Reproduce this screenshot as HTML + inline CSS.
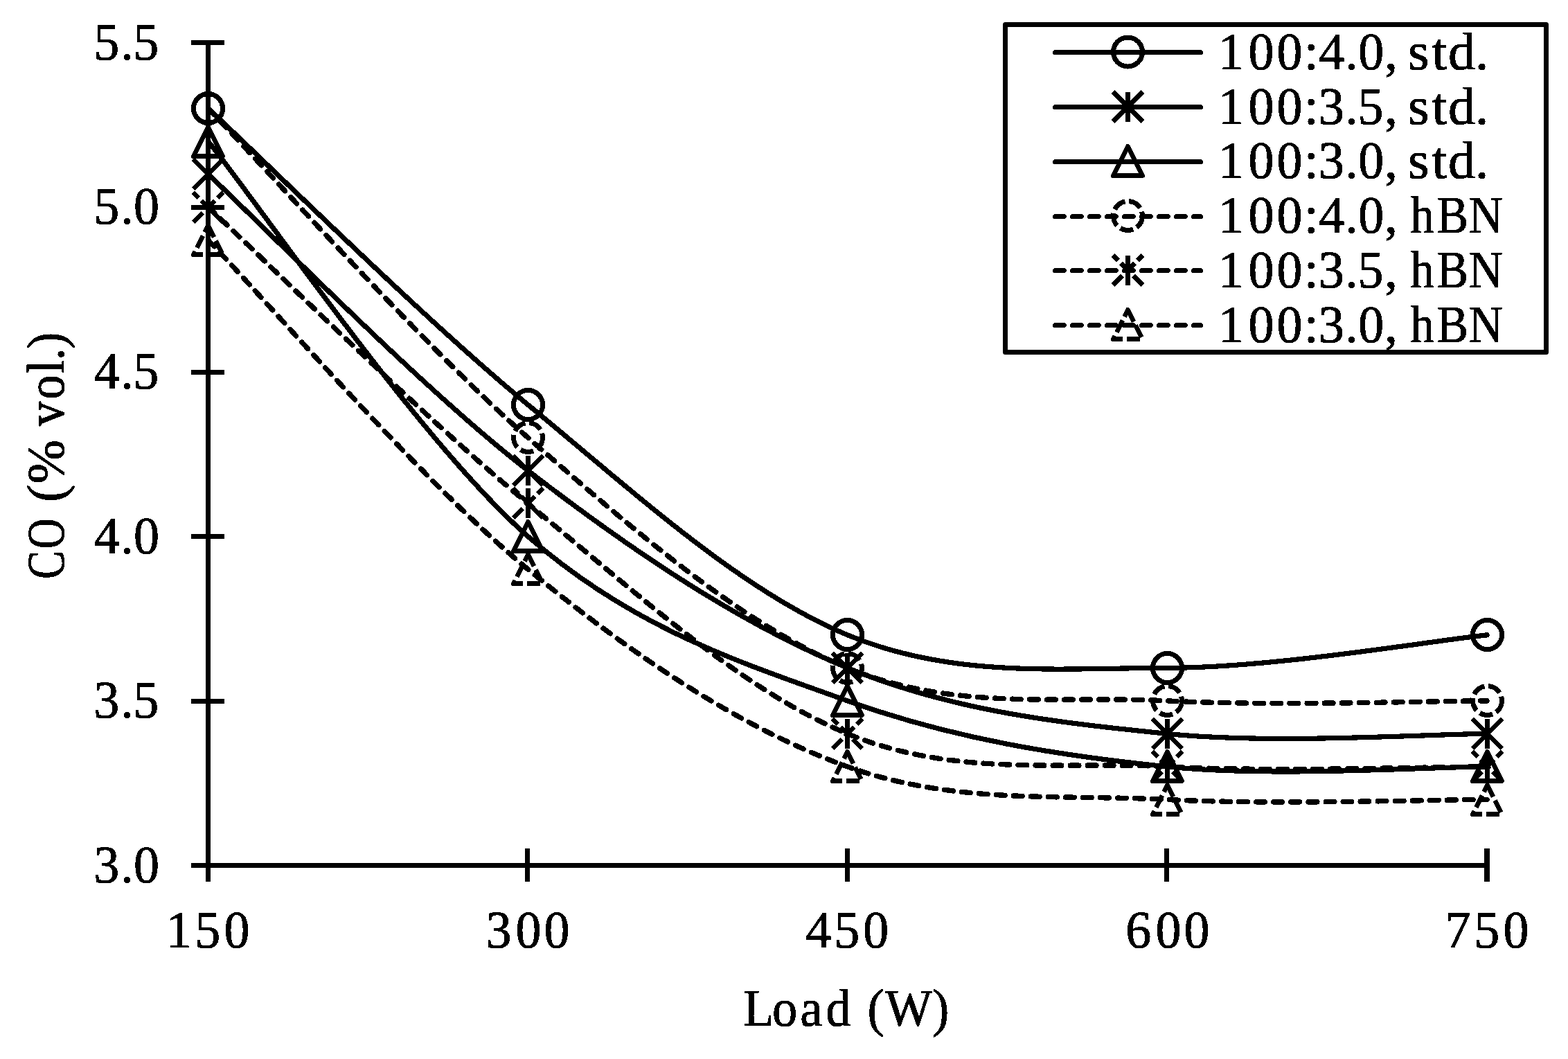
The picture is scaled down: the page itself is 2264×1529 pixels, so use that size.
<!DOCTYPE html>
<html lang="en"><head><meta charset="utf-8"><title>CO (% vol.) vs Load (W)</title>
<style>
html,body{margin:0;padding:0;background:#fff;}
body{width:2264px;height:1529px;overflow:hidden;}
svg{display:block;}
text{font-family:"Liberation Serif", serif;font-size:76px;fill:#000;stroke:#000;stroke-width:1;stroke-linejoin:round;filter:url(#bw);}
.ax{stroke:#000;stroke-width:7;fill:none;shape-rendering:crispEdges;}
.ln{shape-rendering:crispEdges;stroke:#000;stroke-width:7.2;fill:none;stroke-linejoin:round;}
.mk{shape-rendering:crispEdges;stroke:#000;stroke-width:7;fill:none;}
</style></head><body>
<svg width="2264" height="1529" viewBox="0 0 2264 1529">
<rect x="0" y="0" width="2264" height="1529" fill="#fff"/>
<defs><filter id="bw" x="-5%" y="-20%" width="110%" height="140%" color-interpolation-filters="sRGB"><feComponentTransfer><feFuncA type="discrete" tableValues="0 1"/></feComponentTransfer></filter></defs>
<g id="axes" class="ax">
<line x1="300.5" y1="58" x2="300.5" y2="1273"/>
<line x1="276" y1="1249.5" x2="2151" y2="1249.5"/>
<rect x="276" y="58" width="48" height="7" fill="#000" stroke="none"/>
<rect x="276" y="296" width="48" height="7" fill="#000" stroke="none"/>
<rect x="276" y="534" width="48" height="7" fill="#000" stroke="none"/>
<rect x="276" y="771" width="48" height="7" fill="#000" stroke="none"/>
<rect x="276" y="1009" width="48" height="7" fill="#000" stroke="none"/>
<rect x="758" y="1225" width="7" height="48" fill="#000" stroke="none"/>
<rect x="1220" y="1225" width="7" height="48" fill="#000" stroke="none"/>
<rect x="1681" y="1225" width="7" height="48" fill="#000" stroke="none"/>
<rect x="2143" y="1225" width="8" height="48" fill="#000" stroke="none"/>
</g>
<g id="series">
<path class="ln" d="M300.5 156.54 C377.44 227.82 608.25 457.5 762.12 584.22 C916 710.94 1069.88 853.5 1223.75 916.86 C1377.62 980.22 1531.5 964.38 1685.38 964.38 C1839.25 964.38 2070.06 924.78 2147 916.86" stroke-linecap="round"/>
<g><circle cx="300.5" cy="156.5" r="21" class="mk"/><circle cx="762.5" cy="584.5" r="21" class="mk"/><circle cx="1223.5" cy="916.5" r="21" class="mk"/><circle cx="1685.5" cy="964.5" r="21" class="mk"/><circle cx="2147.5" cy="916.5" r="21" class="mk"/></g>
<path class="ln" d="M300.5 251.58 C377.44 322.86 608.25 560.46 762.12 679.26 C916 798.06 1069.88 901.02 1223.75 964.38 C1377.62 1027.74 1531.5 1043.58 1685.38 1059.42 C1839.25 1075.26 2070.06 1059.42 2147 1059.42" stroke-linecap="round"/>
<g><path d="M322 273 L279 230 M279 273 L322 230 M300.5 230 L300.5 273" class="mk"/><path d="M784 701 L741 658 M741 701 L784 658 M762.5 658 L762.5 701" class="mk"/><path d="M1245 986 L1202 943 M1202 986 L1245 943 M1223.5 943 L1223.5 986" class="mk"/><path d="M1707 1081 L1664 1038 M1664 1081 L1707 1038 M1685.5 1038 L1685.5 1081" class="mk"/><path d="M2169 1081 L2126 1038 M2126 1081 L2169 1038 M2147.5 1038 L2147.5 1081" class="mk"/></g>
<path class="ln" d="M300.5 204.06 C377.44 299.1 608.25 639.66 762.12 774.3 C916 908.94 1069.88 956.46 1223.75 1011.9 C1377.62 1067.34 1531.5 1091.1 1685.38 1106.94 C1839.25 1122.78 2070.06 1106.94 2147 1106.94" stroke-linecap="round"/>
<g><path d="M300.5 183.5 L321.5 225.5 L279.5 225.5 Z" class="mk" stroke-linejoin="round"/><path d="M762.5 753.5 L783.5 795.5 L741.5 795.5 Z" class="mk" stroke-linejoin="round"/><path d="M1223.5 990.5 L1244.5 1032.5 L1202.5 1032.5 Z" class="mk" stroke-linejoin="round"/><path d="M1685.5 1085.5 L1706.5 1127.5 L1664.5 1127.5 Z" class="mk" stroke-linejoin="round"/><path d="M2147.5 1085.5 L2168.5 1127.5 L2126.5 1127.5 Z" class="mk" stroke-linejoin="round"/></g>
<path class="ln" d="M300.5 156.54 C377.44 235.74 608.25 497.1 762.12 631.74 C916 766.38 1069.88 901.02 1223.75 964.38 C1377.62 1027.74 1531.5 1003.98 1685.38 1011.9 C1839.25 1019.82 2070.06 1011.9 2147 1011.9" stroke-dasharray="12.72 12.32" stroke-linecap="round" style="stroke-width:7.4"/>
<g><circle cx="300.5" cy="156.5" r="21" class="mk" stroke-dasharray="19.2 5.8"/><circle cx="762.5" cy="631.5" r="21" class="mk" stroke-dasharray="19.2 5.8"/><circle cx="1223.5" cy="964.5" r="21" class="mk" stroke-dasharray="19.2 5.8"/><circle cx="1685.5" cy="1011.5" r="21" class="mk" stroke-dasharray="19.2 5.8"/><circle cx="2147.5" cy="1011.5" r="21" class="mk" stroke-dasharray="19.2 5.8"/></g>
<path class="ln" d="M300.5 299.1 C377.44 370.38 608.25 600.06 762.12 726.78 C916 853.5 1069.88 996.06 1223.75 1059.42 C1377.62 1122.78 1531.5 1099.02 1685.38 1106.94 C1839.25 1114.86 2070.06 1106.94 2147 1106.94" stroke-dasharray="12.72 12.32" stroke-linecap="round" style="stroke-width:7.4"/>
<g><path d="M322 321 L279 278 M279 321 L322 278 M300.5 278 L300.5 321" class="mk" stroke-dasharray="19.2 5.8"/><path d="M784 748 L741 705 M741 748 L784 705 M762.5 705 L762.5 748" class="mk" stroke-dasharray="19.2 5.8"/><path d="M1245 1081 L1202 1038 M1202 1081 L1245 1038 M1223.5 1038 L1223.5 1081" class="mk" stroke-dasharray="19.2 5.8"/><path d="M1707 1128 L1664 1085 M1664 1128 L1707 1085 M1685.5 1085 L1685.5 1128" class="mk" stroke-dasharray="19.2 5.8"/><path d="M2169 1128 L2126 1085 M2126 1128 L2169 1085 M2147.5 1085 L2147.5 1128" class="mk" stroke-dasharray="19.2 5.8"/></g>
<path class="ln" d="M300.5 346.62 C377.44 425.82 608.25 695.1 762.12 821.82 C916 948.54 1069.88 1051.5 1223.75 1106.94 C1377.62 1162.38 1531.5 1146.54 1685.38 1154.46 C1839.25 1162.38 2070.06 1154.46 2147 1154.46" stroke-dasharray="12.72 12.32" stroke-linecap="round" style="stroke-width:7.4"/>
<g><path d="M300.5 325.5 L321.5 367.5 L279.5 367.5 Z" class="mk" stroke-linejoin="round" stroke-dasharray="19.2 5.8"/><path d="M762.5 800.5 L783.5 842.5 L741.5 842.5 Z" class="mk" stroke-linejoin="round" stroke-dasharray="19.2 5.8"/><path d="M1223.5 1085.5 L1244.5 1127.5 L1202.5 1127.5 Z" class="mk" stroke-linejoin="round" stroke-dasharray="19.2 5.8"/><path d="M1685.5 1133.5 L1706.5 1175.5 L1664.5 1175.5 Z" class="mk" stroke-linejoin="round" stroke-dasharray="19.2 5.8"/><path d="M2147.5 1133.5 L2168.5 1175.5 L2126.5 1175.5 Z" class="mk" stroke-linejoin="round" stroke-dasharray="19.2 5.8"/></g>
</g>
<g id="y-tick-labels">
<text y="85.7" x="135.17 174.24 192.17" textLength="92.62" lengthAdjust="spacingAndGlyphs">5.5</text>
<text y="323.3" x="135.17 174.24 192.92" textLength="92.62" lengthAdjust="spacingAndGlyphs">5.0</text>
<text y="560.9" x="135.83 174.24 192.17" textLength="92.62" lengthAdjust="spacingAndGlyphs">4.5</text>
<text y="798.5" x="135.83 174.24 192.92" textLength="92.62" lengthAdjust="spacingAndGlyphs">4.0</text>
<text y="1036.1" x="135.35 174.24 192.17" textLength="92.62" lengthAdjust="spacingAndGlyphs">3.5</text>
<text y="1273.7" x="135.35 174.24 192.92" textLength="92.62" lengthAdjust="spacingAndGlyphs">3.0</text>
</g>
<g id="x-tick-labels">
<text y="1367.8" x="239.84 281.22 323.38" textLength="111.15" lengthAdjust="spacingAndGlyphs">150</text>
<text y="1367.8" x="701.6 744.43 785.52" textLength="111.15" lengthAdjust="spacingAndGlyphs">300</text>
<text y="1367.8" x="1163.33 1204.27 1246.27" textLength="111.15" lengthAdjust="spacingAndGlyphs">450</text>
<text y="1367.8" x="1625.24 1668.42 1709.47" textLength="111.15" lengthAdjust="spacingAndGlyphs">600</text>
<text y="1367.8" x="2086.6 2128.19 2170.38" textLength="111.15" lengthAdjust="spacingAndGlyphs">750</text>
</g>
<g id="axis-titles">
<text y="1480.8"><tspan x="1072.97 1115.11 1155.26 1192.54" textLength="149.13" lengthAdjust="spacingAndGlyphs">Load</tspan> <tspan x="1252.56 1278.01 1346.35" textLength="116.23" lengthAdjust="spacingAndGlyphs">(W)</tspan></text>
<text y="0" transform="translate(91.8 833.2) rotate(-90)"><tspan x="-2.7 40.65" textLength="84.46" lengthAdjust="spacingAndGlyphs">CO</tspan> <tspan x="108.2 134.65">(%</tspan> <tspan x="217.98 256.58 293.68 313.12 329.7" textLength="131.52" lengthAdjust="spacingAndGlyphs">vol.)</tspan></text>
</g>
<g id="legend">
<rect x="1451.5" y="35.5" width="781" height="473" class="ax" style="stroke-linejoin:round;shape-rendering:auto" fill="#fff"/>
<path class="ln" d="M1523.5 75.5 L1733.5 75.5" stroke-linecap="round" style="stroke-width:7"/>
<circle cx="1628.5" cy="75" r="21" class="mk"/>
<text y="99.8"><tspan x="1758.89 1802.38 1843.47 1882.88 1904.18 1942.14 1961.27 1999.21" textLength="242.89" lengthAdjust="spacingAndGlyphs">100:4.0,</tspan> <tspan x="2033.13 2067.42 2090.94 2129.77" textLength="110.92" lengthAdjust="spacingAndGlyphs">std.</tspan></text>
<path class="ln" d="M1523.5 154.5 L1733.5 154.5" stroke-linecap="round" style="stroke-width:7"/>
<path d="M1650 175.5 L1607 132.5 M1607 175.5 L1650 132.5 M1628.5 132.5 L1628.5 175.5" class="mk"/>
<text y="178.57"><tspan x="1758.89 1802.38 1843.47 1882.88 1903.7 1942.14 1960.52 1999.21" textLength="242.89" lengthAdjust="spacingAndGlyphs">100:3.5,</tspan> <tspan x="2033.13 2067.42 2090.94 2129.77" textLength="110.92" lengthAdjust="spacingAndGlyphs">std.</tspan></text>
<path class="ln" d="M1523.5 233.5 L1733.5 233.5" stroke-linecap="round" style="stroke-width:7"/>
<path d="M1628.5 211.5 L1649.5 253.5 L1607.5 253.5 Z" class="mk" stroke-linejoin="round"/>
<text y="257.34"><tspan x="1758.89 1802.38 1843.47 1882.88 1903.7 1942.14 1961.27 1999.21" textLength="242.89" lengthAdjust="spacingAndGlyphs">100:3.0,</tspan> <tspan x="2033.13 2067.42 2090.94 2129.77" textLength="110.92" lengthAdjust="spacingAndGlyphs">std.</tspan></text>
<path class="ln" d="M1523.5 312.5 L1733.5 312.5" stroke-dasharray="12.7 12.3" stroke-linecap="round" style="stroke-width:7"/>
<circle cx="1628.5" cy="311.5" r="21" class="mk" stroke-dasharray="19.2 5.8"/>
<text y="336.11"><tspan x="1758.89 1802.38 1843.47 1882.88 1904.18 1942.14 1961.27 1999.21" textLength="242.89" lengthAdjust="spacingAndGlyphs">100:4.0,</tspan> <tspan x="2036.62 2074.42 2120.4" textLength="129.22" lengthAdjust="spacingAndGlyphs">hBN</tspan></text>
<path class="ln" d="M1523.5 390.5 L1733.5 390.5" stroke-dasharray="12.7 12.3" stroke-linecap="round" style="stroke-width:7"/>
<path d="M1650 411.5 L1607 368.5 M1607 411.5 L1650 368.5 M1628.5 368.5 L1628.5 411.5" class="mk" stroke-dasharray="19.2 5.8"/>
<text y="414.88"><tspan x="1758.89 1802.38 1843.47 1882.88 1903.7 1942.14 1960.52 1999.21" textLength="242.89" lengthAdjust="spacingAndGlyphs">100:3.5,</tspan> <tspan x="2036.62 2074.42 2120.4" textLength="129.22" lengthAdjust="spacingAndGlyphs">hBN</tspan></text>
<path class="ln" d="M1523.5 469.5 L1733.5 469.5" stroke-dasharray="12.7 12.3" stroke-linecap="round" style="stroke-width:7"/>
<path d="M1628.5 447.5 L1649.5 489.5 L1607.5 489.5 Z" class="mk" stroke-linejoin="round" stroke-dasharray="19.2 5.8"/>
<text y="493.65"><tspan x="1758.89 1802.38 1843.47 1882.88 1903.7 1942.14 1961.27 1999.21" textLength="242.89" lengthAdjust="spacingAndGlyphs">100:3.0,</tspan> <tspan x="2036.62 2074.42 2120.4" textLength="129.22" lengthAdjust="spacingAndGlyphs">hBN</tspan></text>
</g>
</svg></body></html>
